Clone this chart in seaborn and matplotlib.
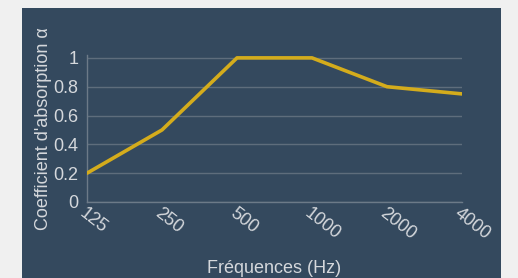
import pandas as pd
import matplotlib.pyplot as plt
import seaborn as sns
from matplotlib.patches import Rectangle

frequences = ["125", "250", "500", "1000", "2000", "4000"]
absorption = [0.2, 0.5, 1.0, 1.0, 0.8, 0.75]
yticks = [0, 0.2, 0.4, 0.6, 0.8, 1]
ytick_labels = ["0", "0.2", "0.4", "0.6", "0.8", "1"]

df = pd.DataFrame({"freq": frequences, "alpha": absorption})

sns.set_style("white")
plt.rcParams["font.family"] = ["Liberation Sans", "DejaVu Sans"]

bg = "#34495e"
txt = "#d5d8dc"
grid = "#5e6d7c"

fig = plt.figure(figsize=(5.18, 2.78), dpi=100)
fig.patch.set_facecolor("#f0f0f0")
fig.patches.append(Rectangle((22 / 518, 0), 479 / 518, 270 / 278,
                             transform=fig.transFigure, facecolor=bg,
                             edgecolor="none", zorder=-10))

ax = fig.add_axes([87 / 518, 76 / 278, 375 / 518, 147 / 278])
ax.set_zorder(1)
ax.set_facecolor(bg)

sns.lineplot(data=df, x="freq", y="alpha", ax=ax, color="#d4ac1c",
             linewidth=2.6, sort=False, zorder=3)

ax.set_xlim(0, len(frequences) - 1)
ax.set_ylim(0, 1.02)
ax.set_yticks(yticks)
ax.set_yticklabels(ytick_labels)
ax.yaxis.grid(True, color=grid, linewidth=1)
ax.xaxis.grid(False)

for s in ["top", "right"]:
    ax.spines[s].set_visible(False)
for s in ["left", "bottom"]:
    ax.spines[s].set_color("#6c7a88")
    ax.spines[s].set_linewidth(1)

ax.tick_params(axis="y", colors=txt, labelsize=13, length=0, pad=6)
ax.tick_params(axis="x", colors=txt, labelsize=13, length=0, pad=2)
for lab in ax.get_xticklabels():
    lab.set_rotation(-38)
    lab.set_ha("left")
    lab.set_va("top")
    lab.set_rotation_mode("anchor")

ax.set_xlabel("Fréquences (Hz)", color=txt, fontsize=13, labelpad=12)
ax.set_ylabel("Coefficient d'absorption α", color=txt, fontsize=13, labelpad=1)

fig.savefig("out.png", dpi=100, facecolor=fig.get_facecolor())
